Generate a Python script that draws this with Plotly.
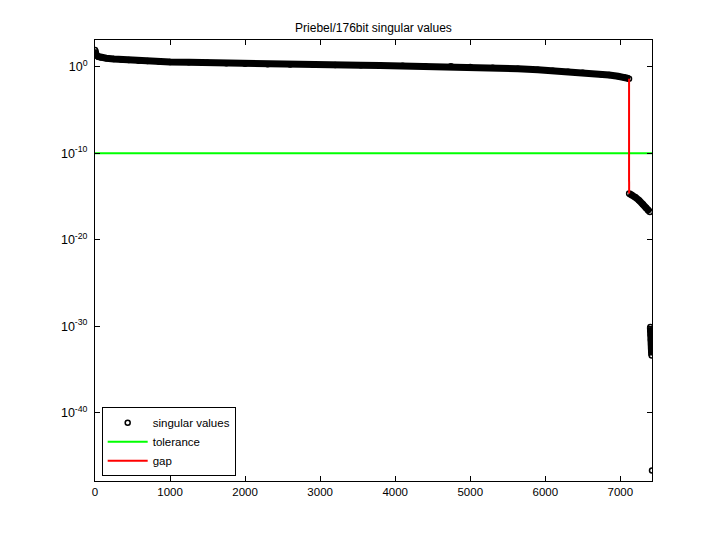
import plotly.graph_objects as go

title = "Priebel/176bit singular values"

# main block of singular values (index, value)
main_idx = [0, 5, 15, 40, 80, 150, 250, 350, 450, 583, 700, 850, 1000, 1250, 1500,
            1750, 2000, 2300, 2600, 2900, 3200, 3543, 3800, 4100, 4400, 4743, 5000,
            5300, 5636, 5900, 6100, 6303, 6500, 6743, 6850, 6970, 7050, 7090, 7116]
main_val = [8.5e1, 4.5e1, 2.5e1, 1.5e1, 1.15e1, 9.5, 7.9, 6.8, 5.9, 5.0, 4.5, 4.0,
            3.6, 3.2, 2.8, 2.5, 2.24, 1.95, 1.78, 1.66, 1.55, 1.45, 1.35, 1.26, 1.17,
            1.1, 0.93, 0.76, 0.575, 0.44, 0.35, 0.263, 0.2, 0.135, 0.11, 0.079,
            0.06, 0.05, 0.042]

# second block after the gap
tail_idx = [7117, 7150, 7200, 7250, 7300, 7340, 7370, 7395]
tail_val = [2.2e-15, 1.6e-15, 7.9e-16, 3.5e-16, 1.26e-16, 5.0e-17, 2.5e-17, 1.6e-17]

# tiny cluster at the end
end_idx = [7400, 7403, 7406, 7409, 7412, 7415, 7418, 7422]
end_val = [8e-31, 3e-31, 1e-31, 2.5e-32, 5e-33, 1.3e-33, 4e-34, 2e-47]

tolerance = 1e-10
n = 7422

x_ticks = [0, 1000, 2000, 3000, 4000, 5000, 6000, 7000]
y_ticks = [1e0, 1e-10, 1e-20, 1e-30, 1e-40]
y_tick_text = ["10<sup>0</sup>", "10<sup>-10</sup>", "10<sup>-20</sup>",
               "10<sup>-30</sup>", "10<sup>-40</sup>"]

fig = go.Figure()

# dense bands (markers overlap into a solid band)
for xs, ys in [(main_idx, main_val), (tail_idx, tail_val), (end_idx[:-1], end_val[:-1])]:
    fig.add_trace(go.Scatter(x=xs, y=ys, mode="lines", showlegend=False,
                             line=dict(color="black", width=7), hoverinfo="skip"))

fig.add_trace(go.Scatter(x=main_idx + tail_idx + end_idx, y=main_val + tail_val + end_val,
                         mode="markers", name="singular values",
                         marker=dict(symbol="circle-open", size=5, color="black",
                                     line=dict(width=1.5, color="black"))))

fig.add_trace(go.Scatter(x=[0, n], y=[tolerance, tolerance], mode="lines",
                         name="tolerance", line=dict(color="#00ff00", width=2)))

fig.add_trace(go.Scatter(x=[main_idx[-1], tail_idx[0]], y=[main_val[-1], tail_val[0]],
                         mode="lines", name="gap", line=dict(color="#ff0000", width=2)))

font = "Liberation Sans, Arial, sans-serif"

fig.update_layout(
    width=720, height=540,
    margin=dict(l=87, r=76, t=32, b=67, autoexpand=False),
    paper_bgcolor="white", plot_bgcolor="white",
    font=dict(family=font, size=11.5, color="black"),
    title=dict(text=title, x=0.5, xref="paper", y=1 - 20 / 540, yanchor="middle",
               xanchor="center", font=dict(size=12, family=font, color="black")),
    legend=dict(x=0.012, y=0.011, xanchor="left", yanchor="bottom",
                bordercolor="black", borderwidth=1, bgcolor="white",
                font=dict(size=11.5, family=font), tracegroupgap=0, itemwidth=40),
    showlegend=True,
)

fig.update_xaxes(range=[0, n], tickvals=x_ticks, ticks="inside", ticklen=5,
                 tickcolor="black", showgrid=False, zeroline=False, showline=True,
                 linecolor="black", linewidth=1, mirror="ticks", automargin=False)
fig.update_yaxes(type="log", range=[-47.9, 3.09], tickvals=y_ticks, ticktext=y_tick_text,
                 ticks="inside", ticklen=5, tickcolor="black", showgrid=False,
                 zeroline=False, showline=True, linecolor="black", linewidth=1,
                 mirror="ticks", automargin=False, tickfont=dict(size=12.5),
                 ticklabelstandoff=4)

fig.write_html("out.html")
